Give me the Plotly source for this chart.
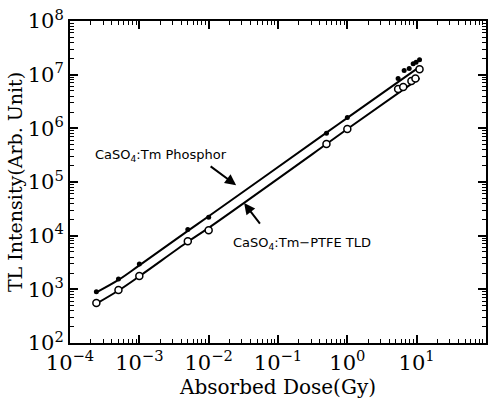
import plotly.graph_objects as go

# Data
phos_x = [2.4e-4, 5e-4, 1e-3, 5e-3, 1e-2, 0.5, 1.0, 5.4, 6.6, 7.8, 8.9, 9.8, 11.0]
phos_y = [900, 1550, 2950, 13000, 22000, 8.1e5, 1.6e6, 8.5e6, 1.2e7, 1.3e7, 1.6e7, 1.7e7, 1.9e7]
tld_x = [2.4e-4, 5e-4, 1e-3, 5e-3, 1e-2, 0.5, 1.0, 5.4, 6.4, 8.4, 9.6, 11.0]
tld_y = [556, 970, 1770, 7900, 12600, 5.1e5, 9.7e5, 5.4e6, 5.9e6, 7.6e6, 8.5e6, 1.26e7]

# Fitted curves drawn through the data
phos_fit_x = [2.4e-4, 5e-4, 1e-3, 5e-3, 1e-2, 0.5, 1.0, 11.0]
phos_fit_y = [880, 1500, 2800, 12300, 23000, 8.3e5, 1.57e6, 1.4e7]
tld_fit_x = [2.4e-4, 5e-4, 1e-3, 5e-3, 1e-2, 0.5, 1.0, 11.0]
tld_fit_y = [540, 950, 1750, 7700, 14000, 5.1e5, 9.7e5, 8.6e6]

x_tickvals = [1e-4, 1e-3, 1e-2, 1e-1, 1, 10, 100]
x_ticktext = ["10<sup>−4</sup>", "10<sup>−3</sup>", "10<sup>−2</sup>", "10<sup>−1</sup>",
              "10<sup>0</sup>", "10<sup>1</sup>", "10<sup>2</sup>"]
y_tickvals = [1e2, 1e3, 1e4, 1e5, 1e6, 1e7, 1e8]
y_ticktext = ["10<sup>2</sup>", "10<sup>3</sup>", "10<sup>4</sup>", "10<sup>5</sup>",
              "10<sup>6</sup>", "10<sup>7</sup>", "10<sup>8</sup>"]
minor_mults = [2, 3, 4, 5, 6, 7, 8, 9]

label_phos = "CaSO<sub>4</sub>:Tm Phosphor"
label_tld = "CaSO<sub>4</sub>:Tm−PTFE TLD"

x_minor = [m * d for d in x_tickvals[:-1] for m in minor_mults]
y_minor = [m * d for d in y_tickvals[:-1] for m in minor_mults]

fig = go.Figure()
fig.add_trace(go.Scatter(x=phos_fit_x, y=phos_fit_y, mode="lines", line_shape="spline",
                         line=dict(color="black", width=2), showlegend=False))
fig.add_trace(go.Scatter(x=tld_fit_x, y=tld_fit_y, mode="lines", line_shape="spline",
                         line=dict(color="black", width=2), showlegend=False))
fig.add_trace(go.Scatter(x=phos_x, y=phos_y, mode="markers",
                         marker=dict(color="black", size=5, symbol="circle"), showlegend=False))
fig.add_trace(go.Scatter(x=tld_x, y=tld_y, mode="markers",
                         marker=dict(color="white", size=7, symbol="circle",
                                     line=dict(color="black", width=1.5)), showlegend=False))

serif = "DejaVu Serif"
axis_common = dict(type="log", showgrid=False, zeroline=False, showline=True,
                   linecolor="black", linewidth=2, mirror="ticks", ticks="inside",
                   ticklen=8, tickwidth=1.5, tickcolor="black",
                   tickfont=dict(family=serif, size=21, color="black"))

fig.update_xaxes(range=[-4, 2], tickvals=x_tickvals, ticktext=x_ticktext,
                 minor=dict(tickmode="array", tickvals=x_minor, ticks="inside", ticklen=4,
                            tickwidth=1, tickcolor="black", showgrid=False),
                 title=dict(text="Absorbed Dose(Gy)", font=dict(family=serif, size=20, color="black"),
                            standoff=2),
                 **axis_common)
fig.update_yaxes(range=[2, 8], tickvals=y_tickvals, ticktext=y_ticktext,
                 minor=dict(tickmode="array", tickvals=y_minor, ticks="inside", ticklen=4,
                            tickwidth=1, tickcolor="black", showgrid=False),
                 title=dict(text="TL Intensity(Arb. Unit)", font=dict(family=serif, size=19, color="black"),
                            standoff=0),
                 **axis_common)

ann_font = dict(family="DejaVu Sans", size=13, color="black")
# Phosphor label and arrow
fig.add_annotation(x=-2.687, y=5.50, xref="x", yref="y", text=label_phos,
                   showarrow=False, font=ann_font, xanchor="center", yanchor="middle")
fig.add_annotation(x=-1.604, y=4.94, xref="x", yref="y", ax=-27, ay=-20, text="",
                   showarrow=True, arrowhead=2, arrowsize=1.1, arrowwidth=2, arrowcolor="black")
# TLD label and arrow
fig.add_annotation(x=-0.657, y=3.862, xref="x", yref="y", text=label_tld,
                   showarrow=False, font=ann_font, xanchor="center", yanchor="middle")
fig.add_annotation(x=-1.489, y=4.607, xref="x", yref="y", ax=17, ay=22, text="",
                   showarrow=True, arrowhead=2, arrowsize=1.1, arrowwidth=2, arrowcolor="black")

fig.update_layout(width=491, height=402, margin=dict(l=70, r=3, t=21, b=59),
                  plot_bgcolor="white", paper_bgcolor="white")

fig.write_html("out.html")
